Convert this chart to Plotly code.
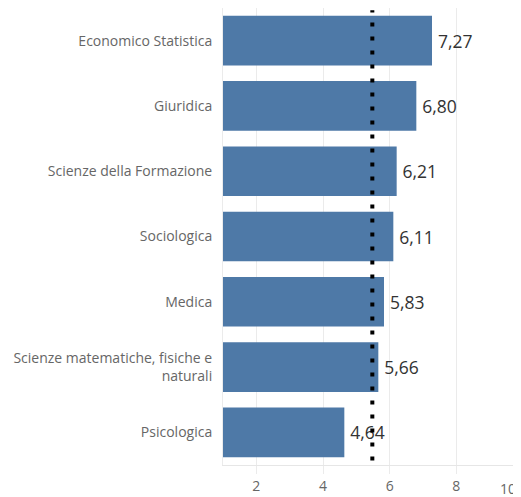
import plotly.graph_objects as go

categories = ["Economico Statistica", "Giuridica", "Scienze della Formazione", "Sociologica",
              "Medica", "Scienze matematiche, fisiche e<br>naturali", "Psicologica"]
values = [7.27, 6.80, 6.21, 6.11, 5.83, 5.66, 4.64]
reference_value = 5.48
tick_values = [2, 4, 6, 8]
tick_labels = ["2", "4", "6", "8"]

labels = ["\u2009" + f"{v:.2f}".replace(".", ",") for v in values]

fig = go.Figure()
fig.add_trace(go.Bar(
    x=values, y=categories, orientation="h",
    marker=dict(color="#4e79a7", line=dict(width=0)),
    text=labels, textposition="outside", cliponaxis=False,
    textfont=dict(family="Open Sans, sans-serif", size=17.5, color="#333333"),
    width=0.76,
))

fig.add_shape(type="line", xref="x", yref="paper", x0=reference_value, x1=reference_value,
              y0=0.01, y1=0.995, line=dict(color="black", width=4, dash="4px,10px"), layer="above")

fig.add_annotation(text="10", xref="paper", yref="paper", x=1, y=0, xanchor="right", yanchor="top",
                   xshift=-3, yshift=-12, showarrow=False,
                   font=dict(family="Open Sans, sans-serif", size=14, color="#666666"))

fig.update_layout(
    width=513, height=489,
    margin=dict(l=215, r=0, t=0, b=32),
    plot_bgcolor="white", paper_bgcolor="white",
    showlegend=False,
    bargap=0.24,
)
fig.update_xaxes(
    range=[1, 9.94], tickvals=tick_values, ticktext=tick_labels,
    showgrid=True, gridcolor="#ebebeb", gridwidth=1,
    ticks="outside", ticklen=8, tickcolor="#ebebeb",
    showline=True, linecolor="#e6e6e6", linewidth=1,
    zeroline=False,
    tickfont=dict(family="Open Sans, sans-serif", size=14, color="#666666"),
)
fig.update_yaxes(
    autorange="reversed", showgrid=False, zeroline=False,
    showline=True, linecolor="#ebebeb", linewidth=1,
    ticks="", ticklabelstandoff=7,
    tickfont=dict(family="Open Sans, sans-serif", size=14, color="#666666"),
)

fig.write_html("out.html")
